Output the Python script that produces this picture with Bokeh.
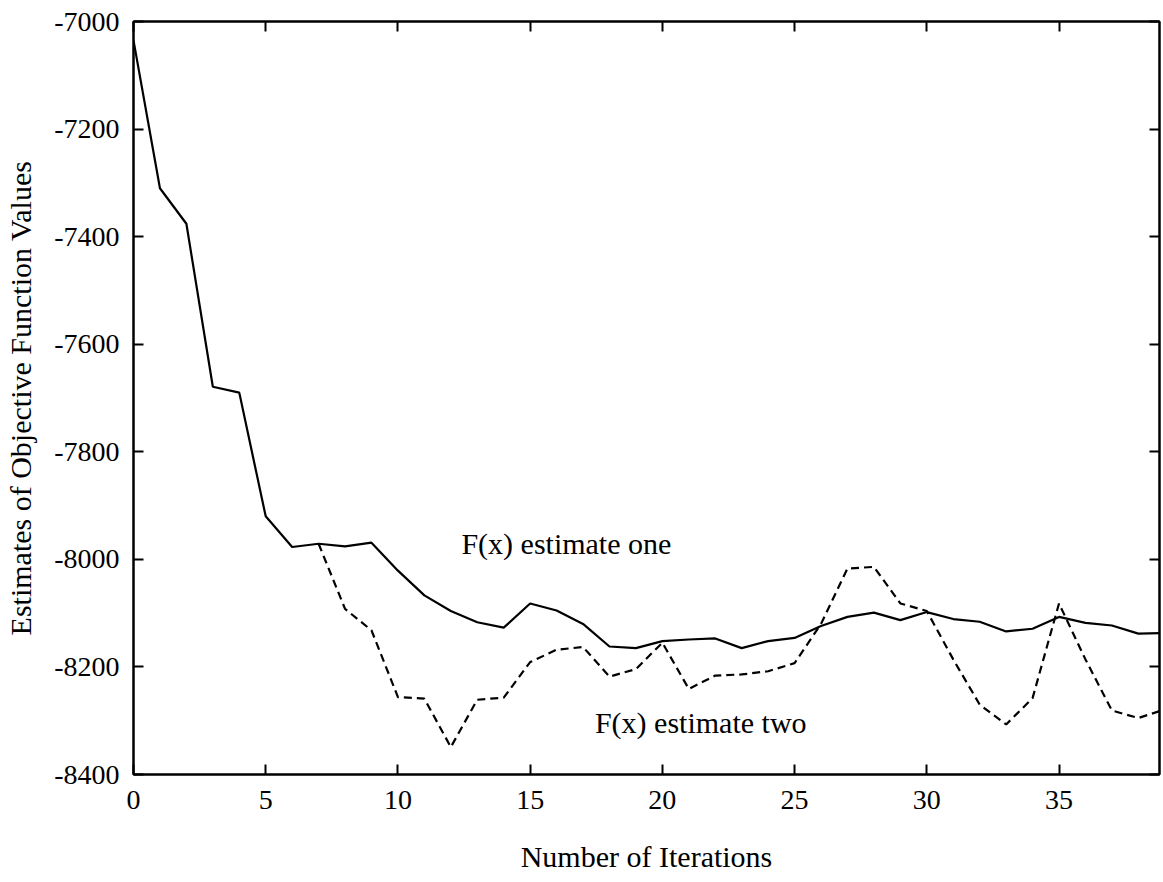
from bokeh.plotting import figure
from bokeh.models import (LinearAxis, Range1d, SingleIntervalTicker, ColumnDataSource,
                          CustomJSTickFormatter, CustomLabelingPolicy)
from bokeh.core.properties import value
from bokeh.embed import file_html
from bokeh.resources import INLINE

# ---- data ----
iter_one = list(range(0, 40))
est_one = [-7035, -7310, -7376, -7679, -7690, -7920, -7977, -7971, -7976, -7969,
           -8021, -8067, -8096, -8117, -8127, -8082, -8095, -8120, -8162, -8165,
           -8152, -8149, -8147, -8165, -8152, -8146, -8124, -8107, -8099, -8113,
           -8098, -8111, -8116, -8134, -8129, -8107, -8118, -8123, -8138, -8137]

iter_two = list(range(7, 40))
est_two = [-7971, -8092, -8132, -8256, -8259, -8349, -8261, -8257, -8191, -8168,
           -8163, -8218, -8204, -8155, -8241, -8216, -8214, -8208, -8193, -8120,
           -8017, -8014, -8082, -8096, -8186, -8270, -8307, -8258, -8082, -8186,
           -8281, -8295, -8279]

labels_text = ["F(x) estimate one", "F(x) estimate two"]
labels_x = [12.4, 17.45]
labels_y = [-7970, -8303]

x_label = "Number of Iterations"
y_label = "Estimates of Objective Function Values"

FONT = "Liberation Serif"

p = figure(width=1163, height=882, output_backend="svg", toolbar_location=None,
           x_range=Range1d(0, 38.8), y_range=Range1d(-8400, -7000),
           min_border_left=133, min_border_right=0, min_border_top=21,
           min_border_bottom=108, background_fill_color="white",
           border_fill_color="white")
p.grid.visible = False
p.outline_line_color = "black"
p.outline_line_width = 2

p.line(iter_one, est_one, line_color="black", line_width=2.2)
p.line(iter_two, est_two, line_color="black", line_width=2.2, line_dash="8 5")

src = ColumnDataSource(dict(x=labels_x, y=labels_y, t=labels_text))
p.text(x="x", y="y", text="t", source=src, text_font=value(FONT),
       text_font_size="30px", text_color="black", text_align="left",
       text_baseline="alphabetic")

fmt = CustomJSTickFormatter(code="return tick.toFixed(0);")

def style(ax, labels=True):
    ax.axis_line_color = "black"
    ax.axis_line_width = 2
    ax.major_tick_line_color = "black"
    ax.major_tick_line_width = 2
    ax.major_tick_in = 10
    ax.major_tick_out = 0
    ax.minor_tick_line_color = None
    ax.major_label_text_font = FONT
    ax.major_label_text_color = "black"
    if labels:
        ax.major_label_text_font_size = "28px"
        ax.formatter = fmt
    else:
        ax.major_label_policy = CustomLabelingPolicy(code="return new Set();")
        ax.major_label_text_font_size = "0px"
        ax.major_label_standoff = 0

p.xaxis.ticker = SingleIntervalTicker(interval=5)
p.yaxis.ticker = SingleIntervalTicker(interval=200)
for ax in p.xaxis + p.yaxis:
    style(ax)

p.xaxis.major_label_standoff = 12
p.yaxis.major_label_standoff = 10
p.xaxis.axis_label = x_label
p.yaxis.axis_label = y_label
for ax in p.xaxis + p.yaxis:
    ax.axis_label_text_font = FONT
    ax.axis_label_text_font_size = "30px"
    ax.axis_label_text_font_style = "normal"
    ax.axis_label_text_color = "black"
p.xaxis.axis_label_standoff = 28
p.yaxis.axis_label_standoff = 14

top = LinearAxis(ticker=SingleIntervalTicker(interval=5))
right = LinearAxis(ticker=SingleIntervalTicker(interval=200))
style(top, labels=False)
style(right, labels=False)
p.add_layout(top, "above")
p.add_layout(right, "right")

open("out.html", "w").write(file_html(p, INLINE))
